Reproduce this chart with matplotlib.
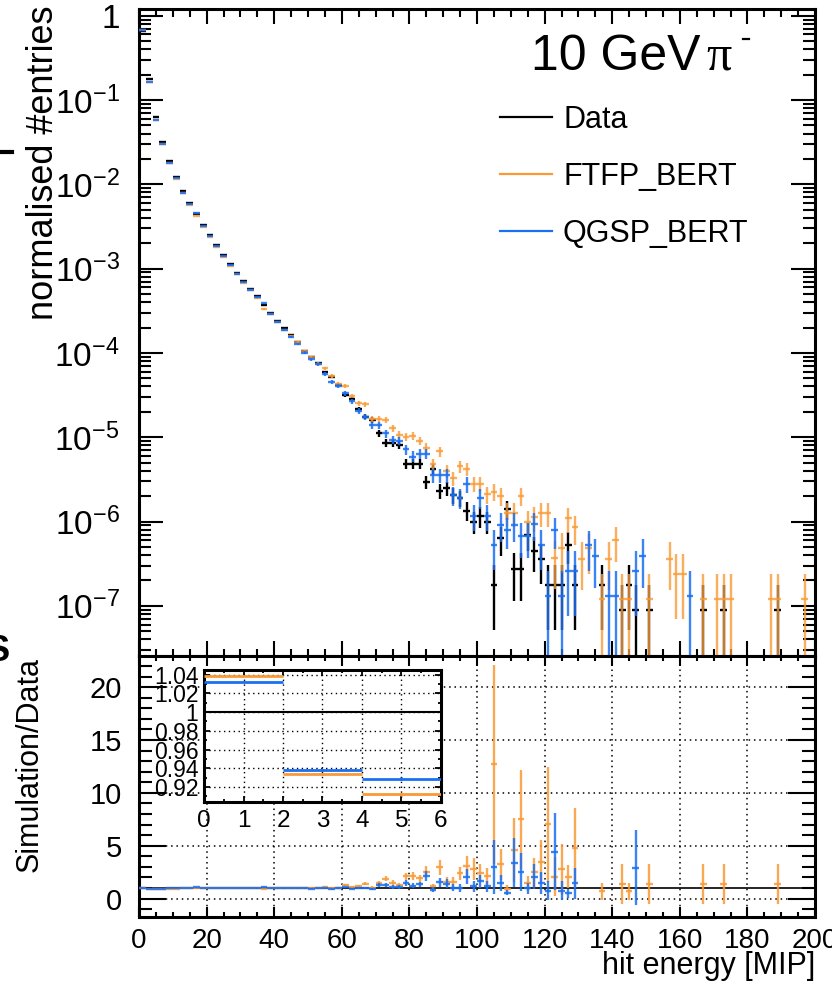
import numpy as np
import matplotlib.pyplot as plt
from matplotlib.lines import Line2D
from matplotlib.ticker import MultipleLocator, LogLocator, FuncFormatter, NullFormatter

plt.rcParams['font.family'] = ['Liberation Sans', 'DejaVu Sans']

# 2 MIP bins, centres 1, 3, ..., 199
bin_centres = np.arange(1, 200, 2)

data = [
    0.65, 0.176, 0.063, 0.032, 0.0189, 0.0123, 0.0083, 0.0060, 0.0044, 0.0033,
    0.0025, 0.0019, 0.00145, 0.00113, 0.00089, 0.00071, 0.00058, 0.00047, 0.00037, 0.00030,
    2.4e-4, 1.95e-4, 1.63e-4, 1.35e-4, 1.06e-4, 8.9e-5, 7.5e-5, 5.9e-5, 5.2e-5, 4.2e-5,
    3.16e-5, 2.85e-5, 2.14e-5, 1.75e-5, 1.6e-5, 1.11e-5, 8.6e-6, 8.5e-6, 8.1e-6, 4.8e-6,
    4.8e-6, 4.8e-6, 2.96e-6, 4.2e-6, 2.3e-6, 2.5e-6, 2.06e-6, 1.9e-6, 1.35e-6, 1.0e-6,
    1.17e-6, 1.0e-6, 1.78e-7, 6.3e-7, 1.4e-6, 2.7e-7, 2.7e-7, 7.0e-7, 4.5e-7, 3.6e-7,
    1.78e-7, 1.78e-7, 1.78e-7, 5.3e-7, 1.78e-7, 0, 0, 0, 1.78e-7, 0,
    0, 8.9e-8, 1.78e-7, 8.9e-8, 0, 8.9e-8, 0, 0, 0, 0,
    0, 0, 0, 8.9e-8, 0, 0, 8.9e-8, 0, 0, 0,
    0, 0, 0, 0, 8.9e-8, 0, 0, 0, 0, 0,
]

ftfp = [
    0.6754, 0.1644, 0.05746, 0.0301, 0.0178, 0.01163, 0.00787, 0.00571, 0.00419, 0.00315,
    0.00239, 0.00182, 0.00139, 0.00108, 0.000855, 0.000683, 0.000556, 0.000448, 0.000333, 0.000288,
    2.32e-4, 1.89e-4, 1.58e-4, 1.33e-4, 1.04e-4, 8.9e-5, 7.4e-5, 6.6e-5, 5.3e-5, 4.3e-5,
    4.1e-5, 3.1e-5, 2.55e-5, 2.45e-5, 1.64e-5, 1.64e-5, 1.6e-5, 1.27e-5, 1.06e-5, 1.0e-5,
    1.03e-5, 9.1e-6, 7.5e-6, 4.8e-6, 6.8e-6, 4.0e-6, 3.25e-6, 4.5e-6, 4.2e-6, 2.8e-6,
    2.8e-6, 2.1e-6, 2.26e-6, 2.03e-6, 1.26e-6, 1.25e-6, 2.03e-6, 1.0e-6, 1.12e-6, 1.25e-6,
    1.25e-6, 3.7e-7, 4.9e-7, 1.1e-6, 8.5e-7, 3.6e-7, 4.8e-7, 0, 1.2e-7, 3.6e-7,
    6.0e-7, 1.2e-7, 1.2e-7, 0, 0, 1.2e-7, 0, 0, 3.6e-7, 2.4e-7,
    2.4e-7, 0, 0, 1.2e-7, 0, 1.2e-7, 1.2e-7, 1.2e-7, 0, 0,
    0, 0, 0, 1.2e-7, 1.2e-7, 0, 0, 0, 1.2e-7, 0,
]

qgsp = [
    0.6711, 0.1651, 0.05852, 0.0303, 0.0180, 0.0118, 0.00795, 0.00578, 0.00462, 0.00318,
    0.00242, 0.00183, 0.0014, 0.00109, 0.000862, 0.000685, 0.000562, 0.000455, 0.000389, 0.000289,
    2.32e-4, 1.86e-4, 1.55e-4, 1.28e-4, 1.01e-4, 8.4e-5, 7.3e-5, 5.6e-5, 4.55e-5, 4.1e-5,
    3.3e-5, 2.69e-5, 2.07e-5, 1.75e-5, 1.4e-5, 1.4e-5, 1.11e-5, 9.3e-6, 9.1e-6, 7.2e-6,
    5.9e-6, 6.4e-6, 6.4e-6, 3.55e-6, 3.55e-6, 3.55e-6, 2.06e-6, 1.9e-6, 2.8e-6, 1.17e-6,
    1.9e-6, 1.17e-6, 5.25e-7, 9.1e-7, 7.9e-7, 9.1e-7, 6.7e-7, 6.7e-7, 9.3e-7, 5.25e-7,
    1.31e-7, 7.9e-7, 1.31e-7, 2.6e-7, 2.6e-7, 0, 5.2e-7, 3.9e-7, 0, 1.31e-7,
    1.31e-7, 0, 0, 2.6e-7, 3.9e-7, 0, 0, 0, 0, 0,
    0, 1.31e-7, 0, 0, 0, 0, 0, 0, 0, 0,
    0, 0, 0, 0, 0, 0, 0, 0, 0, 0,
]

# weight of a single entry in each histogram (read from the lowest filled level)
unit_data = 8.9e-8
unit_ftfp = 1.2e-7
unit_qgsp = 1.31e-7

labels = ['Data', 'FTFP_BERT', 'QGSP_BERT']
colors = ['black', '#f99a36', '#1a6ff2']

W, H = 832, 983
PX = 72 / 100  # points per pixel


def fx(p):
    return p / W


def fy(p):
    return 1 - p / H


fig = plt.figure(figsize=(W / 100, H / 100), dpi=100)
ax1 = fig.add_axes([fx(139), fy(656), (815 - 139) / W, (656 - 9) / H])
ax2 = fig.add_axes([fx(139), fy(917), (815 - 139) / W, (917 - 656) / H])

x = bin_centres
d = np.array(data)
series = [(d, unit_data), (np.array(ftfp), unit_ftfp), (np.array(qgsp), unit_qgsp)]

# top panel
for (vals, unit), col, a, z in zip(series, colors, [1.0, 0.8, 0.85], [3, 4, 5]):
    m = vals > 0
    v = vals[m]
    err = np.sqrt(v * unit)
    lo = np.minimum(err, v * 0.999999)
    ax1.errorbar(x[m], v, xerr=1, yerr=[lo, err], fmt='none', ecolor=col,
                 elinewidth=1.7, capsize=0, alpha=a, zorder=z)

ax1.set_yscale('log')
ax1.set_xlim(0, 200)
ax1.set_ylim(2.54e-8, 1.2)
ax1.yaxis.set_major_locator(LogLocator(base=10, numticks=15))
ax1.yaxis.set_minor_locator(LogLocator(base=10, subs=np.arange(2, 10), numticks=15))
ax1.yaxis.set_minor_formatter(NullFormatter())
ax1.yaxis.set_major_formatter(FuncFormatter(
    lambda v, p: '1' if abs(v - 1) < 1e-9 else r'$\mathdefault{10^{%d}}$' % round(np.log10(v))))
ax1.xaxis.set_major_locator(MultipleLocator(20))
ax1.xaxis.set_minor_locator(MultipleLocator(5))
ax1.tick_params(which='both', direction='in', top=True, right=True, labelbottom=False, width=1.5)
ax1.tick_params(axis='x', which='major', length=15 * PX)
ax1.tick_params(axis='x', which='minor', length=7.5 * PX)
ax1.tick_params(axis='y', which='major', length=24 * PX, labelsize=24, pad=14)
ax1.tick_params(axis='y', which='minor', length=12 * PX)

# ratio panel
ax2.set_xlim(0, 200)
ax2.set_ylim(-1.75, 22.95)
ax2.grid(True, which='major', linestyle=(0, (1, 2.5)), color='black', linewidth=1.1, zorder=0)
ax2.axhline(1, color='black', linewidth=1.2, zorder=2)

ax_in = fig.add_axes([fx(204), fy(802), (441 - 204) / W, (802 - 670) / H])
ax_in.set_facecolor('white')
ax_in.set_zorder(10)

for (vals, unit), col, z in zip(series[1:], colors[1:], [4, 5]):
    m = (vals > 0) & (d > 0)
    r = vals[m] / d[m]
    rerr = r * np.sqrt(unit / vals[m] + unit_data / d[m])
    ax2.errorbar(x[m], r, xerr=1, yerr=rerr, fmt='none', ecolor=col,
                 elinewidth=1.7, capsize=0, alpha=0.85, zorder=z)
    ax_in.errorbar(x[m][:3], r[:3], xerr=1, yerr=rerr[:3], fmt='none', ecolor=col,
                   elinewidth=2.0, capsize=0, zorder=z)

ax2.xaxis.set_major_locator(MultipleLocator(20))
ax2.xaxis.set_minor_locator(MultipleLocator(5))
ax2.yaxis.set_major_locator(MultipleLocator(5))
ax2.yaxis.set_minor_locator(MultipleLocator(1))
ax2.tick_params(which='both', direction='in', top=True, right=True, width=1.5)
ax2.tick_params(axis='x', which='major', length=10 * PX, labelsize=20, pad=8)
ax2.tick_params(axis='x', which='minor', length=5 * PX)
ax2.tick_params(axis='y', which='major', length=27 * PX, labelsize=21, pad=12)
ax2.tick_params(axis='y', which='minor', length=13.5 * PX)

# inset: first three bins
ax_in.set_xlim(0, 6)
ax_in.set_ylim(0.904, 1.045)
ax_in.axhline(1, color='black', linewidth=1.5, zorder=3)
ax_in.grid(True, linestyle=(0, (1, 2.5)), color='black', linewidth=1.0, zorder=0)
ax_in.xaxis.set_major_locator(MultipleLocator(1))
ax_in.xaxis.set_minor_locator(MultipleLocator(0.5))
ax_in.yaxis.set_major_locator(MultipleLocator(0.02))
ax_in.yaxis.set_minor_locator(MultipleLocator(0.01))
ax_in.yaxis.set_major_formatter(FuncFormatter(lambda v, p: '%g' % round(v, 2)))
ax_in.tick_params(which='both', direction='in', top=True, right=True, width=1.3)
ax_in.tick_params(axis='y', which='major', length=6 * PX, labelsize=16.5, pad=4)
ax_in.tick_params(axis='x', which='major', length=6 * PX, labelsize=17.5, pad=6)
ax_in.tick_params(which='minor', length=3 * PX)
for sp in ax_in.spines.values():
    sp.set_linewidth(2.2)

for ax in (ax1, ax2):
    for sp in ax.spines.values():
        sp.set_linewidth(2.2)

# axis titles
fig.text(fx(44), fy(5), 'normalised #entries', rotation=90, ha='center', va='top', fontsize=26)
fig.text(fx(30), fy(764), 'Simulation/Data', rotation=90, ha='center', va='center', fontsize=22)
fig.text(fx(815), fy(974), 'hit energy [MIP]', ha='right', va='baseline', fontsize=22)

# beam label
fig.text(fx(531), fy(70), '10 GeV', ha='left', va='baseline', fontsize=36)
fig.text(fx(706), fy(70), 'π', ha='left', va='baseline', fontsize=36, family='Liberation Serif')
fig.add_artist(Line2D([fx(743), fx(749)], [fy(39), fy(39)], color='black', linewidth=1.6))

# legend
for lab, col, yb in zip(labels, colors, [128, 185, 242]):
    fig.add_artist(Line2D([fx(500), fx(552)], [fy(yb - 11), fy(yb - 11)], color=col, linewidth=1.6))
    fig.text(fx(563), fy(yb), lab, ha='left', va='baseline', fontsize=22)

# clipped pieces of neighbouring text at the left edge
fig.add_artist(Line2D([0, fx(12)], [fy(152), fy(152)], color='black', linewidth=3))
fig.text(fx(-14), fy(661), 'S', ha='left', va='baseline', fontsize=26, fontweight='bold')

fig.savefig('out.png', dpi=100)
